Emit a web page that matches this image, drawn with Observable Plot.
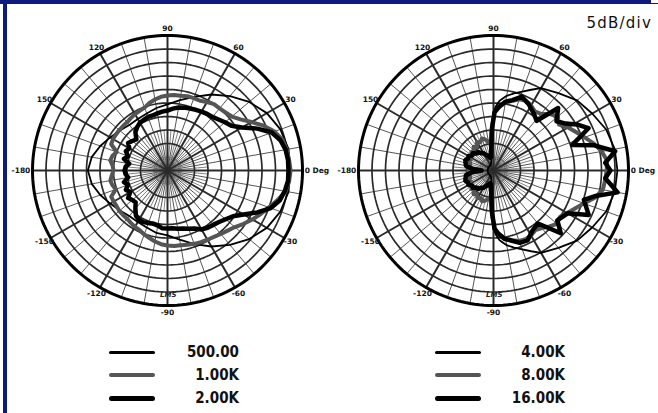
<!DOCTYPE html>
<html><head><meta charset="utf-8">
<script src="https://cdn.jsdelivr.net/npm/d3@7"></script>
<script src="https://cdn.jsdelivr.net/npm/@observablehq/plot@0.6"></script>
<style>
body{margin:0;background:#fff;}
#wrap{position:relative;width:658px;height:413px;overflow:hidden;background:#fff;font-family:"DejaVu Sans",sans-serif;}
#plot{position:absolute;left:0;top:0;}
.bar{position:absolute;background:#0e1a7c;}
.note{position:absolute;font-size:15px;letter-spacing:1.2px;color:#111;}
.logo{position:absolute;font-size:7px;font-style:italic;font-weight:bold;color:#222;}
.sw{position:absolute;border-radius:3px;}
.lab{position:absolute;font-family:"DejaVu Sans Condensed","DejaVu Sans",sans-serif;font-stretch:condensed;font-weight:bold;font-size:15px;color:#111;text-align:right;width:90px;}
</style></head><body><div id="wrap"><div id="plot"></div></div><script>
// ---------- data ----------
const ringLevels = [-45, -40, -35, -30, -25, -20, -15, -10, -5]; // dB, 5 dB/div
const outerLevel = 0;
const floorLevel = -50;
const tickAngles = [30, 60, 90, 120, 150, -150, -120, -90, -60, -30];
const tickLabels = ["30", "60", "90", "120", "150", "-150", "-120", "-90", "-60", "-30"];
const zeroLabel = "0 Deg";
const backLabel = "-180";
const leftNames = ["500.00", "1.00K", "2.00K"];
const rightNames = ["4.00K", "8.00K", "16.00K"];
const scaleNote = "5dB/div";

// [angle deg, level dB]
const f500 = [[-170,-21.5],[-160,-23.5],[-150,-25.5],[-140,-27],[-130,-28],[-120,-28],[-110,-27.5],[-100,-26.5],[-90,-26],[-80,-24],[-70,-21],[-60,-17.5],[-50,-14],[-40,-10.5],[-30,-7.5],[-20,-5.5],[-10,-4.5],[0,-4.4],[10,-4.5],[20,-5.5],[30,-7.5],[40,-10.5],[50,-14],[60,-17.5],[70,-21],[80,-23.5],[90,-25.5],[100,-26.5],[110,-27.5],[120,-28],[130,-28],[140,-27],[150,-25.5],[160,-23.5],[170,-21.5],[180,-20.5]];
const f1k = [[-175,-29.3],[-170,-28.5],[-165,-28.9],[-160,-29.6],[-155,-27],[-150,-27],[-145,-27],[-140,-26.7],[-135,-26.7],[-130,-26.7],[-125,-26.3],[-120,-25.9],[-115,-25.6],[-110,-24.8],[-105,-24.1],[-100,-23.3],[-95,-22.6],[-90,-22.2],[-85,-21.9],[-80,-21.9],[-75,-21.5],[-70,-21.1],[-65,-20.7],[-60,-20.4],[-55,-20],[-50,-19.3],[-45,-18.5],[-40,-17.4],[-35,-15.6],[-30,-13.7],[-25,-11.9],[-20,-10],[-15,-7.8],[-10,-5.6],[-5,-4.8],[0,-4.4],[5,-4.8],[10,-5.2],[15,-5.9],[20,-7.8],[25,-10.7],[30,-14.1],[35,-17],[40,-18.9],[45,-19.6],[50,-20],[55,-20],[60,-20.7],[65,-21.5],[70,-21.5],[75,-21.5],[80,-21.9],[85,-21.9],[90,-22.2],[95,-22.6],[100,-23.3],[105,-24.1],[110,-25.2],[115,-25.6],[120,-25.9],[125,-26.3],[130,-26.7],[135,-26.7],[140,-26.7],[145,-26.7],[150,-26.7],[155,-27],[160,-30],[165,-28.9],[170,-28.5],[175,-29.6],[180,-30]];
const f2k = [[-175,-34.4],[-170,-35.2],[-165,-33.3],[-160,-34.4],[-155,-33],[-150,-34.1],[-145,-32.2],[-140,-33],[-135,-33.3],[-130,-31.5],[-125,-29.6],[-120,-28.9],[-115,-28.9],[-110,-29.3],[-105,-29.6],[-100,-29.3],[-95,-28.5],[-90,-28.5],[-85,-28.5],[-80,-28.1],[-75,-27.8],[-70,-27],[-65,-26.3],[-60,-24.8],[-55,-24.1],[-50,-23.7],[-45,-23],[-40,-21.9],[-35,-20.4],[-30,-17.4],[-25,-13.3],[-20,-9.3],[-15,-7],[-10,-5.9],[-5,-5.2],[0,-5.2],[5,-5.2],[10,-5.6],[15,-6.7],[20,-8.9],[25,-13.3],[30,-18.1],[35,-21.1],[40,-22.2],[45,-23.3],[50,-24.1],[55,-24.4],[60,-24.8],[65,-25.2],[70,-25.6],[75,-25.9],[80,-26.3],[85,-27],[90,-27.8],[95,-28.1],[100,-28.5],[105,-28.9],[110,-28.9],[115,-29.3],[120,-29.6],[125,-30.4],[130,-31.5],[135,-33.7],[140,-33],[145,-32.2],[150,-33.7],[155,-33],[160,-34.4],[165,-33.3],[170,-35.6],[175,-34.4],[180,-34.1]];
const f4k = [[-150,-47.8],[-130,-47.8],[-110,-47.4],[-100,-45.6],[-96,-41.9],[-94,-37.8],[-92,-33.3],[-90,-28.5],[-88,-26.3],[-85,-24.1],[-80,-21.9],[-75,-20.4],[-70,-18.9],[-65,-17],[-60,-14.8],[-50,-12.6],[-40,-9.6],[-30,-7.8],[-20,-5.6],[-10,-4.4],[0,-4.1],[10,-4.4],[20,-5.6],[30,-7.8],[40,-9.6],[50,-12.6],[60,-14.8],[65,-17],[70,-18.9],[75,-20.4],[80,-21.9],[85,-24.1],[88,-26.3],[90,-28.5],[92,-33.3],[94,-37.8],[96,-41.9],[100,-45.6],[110,-47.4],[130,-47.8],[150,-47.8],[180,-47.8]];
const f8k = [[-175,-40.7],[-170,-40.4],[-165,-41.1],[-160,-40],[-155,-40.7],[-150,-39.6],[-145,-40.4],[-140,-39.3],[-135,-39.6],[-130,-38.5],[-125,-39.3],[-120,-38.1],[-115,-38.9],[-110,-37.8],[-105,-38.5],[-100,-39.3],[-95,-38.9],[-92,-33.7],[-89,-28.5],[-85,-26.3],[-80,-24.4],[-75,-23.3],[-70,-22.2],[-65,-21.9],[-60,-22.2],[-55,-23],[-50,-22.2],[-45,-20.7],[-40,-19.3],[-35,-20],[-30,-18.5],[-25,-16.7],[-20,-14.4],[-15,-11.1],[-10,-8.9],[-5,-8.5],[0,-8.1],[5,-7.8],[10,-9.3],[15,-11.5],[20,-14.1],[25,-16.3],[30,-18.1],[35,-20.4],[40,-18.9],[45,-20.4],[50,-22.6],[55,-23.3],[60,-22.2],[65,-21.5],[70,-21.9],[75,-23.3],[80,-24.4],[85,-26.3],[89,-28.5],[92,-33.7],[95,-38.9],[100,-39.3],[105,-38.1],[110,-37.4],[115,-38.5],[120,-37.8],[125,-39.3],[130,-38.5],[135,-39.6],[140,-39.3],[145,-40.4],[150,-39.6],[155,-40.7],[160,-40],[165,-41.1],[170,-40.4],[175,-40.7],[180,-40.7]];
const f16k = [[-175,-41.9],[-170,-39.6],[-165,-39.3],[-160,-38.9],[-155,-39.6],[-150,-39.3],[-145,-40.4],[-140,-40],[-135,-41.1],[-130,-41.1],[-125,-42.2],[-120,-42.6],[-115,-43.7],[-110,-44.1],[-105,-45.2],[-100,-44.8],[-95,-40.7],[-92,-34.4],[-89,-28.5],[-86,-26.7],[-81,-24.4],[-76,-23.3],[-70,-21.5],[-64,-21.2],[-57,-23.5],[-50,-24.4],[-43,-15.9],[-38,-20],[-30,-18.3],[-25,-11.1],[-18,-14.8],[-14,-11],[-10,-3.3],[-4,-8.5],[0,-6.7],[4,-8.5],[9,-4.4],[14,-11.5],[18,-19.3],[24,-11.5],[29,-14.8],[33,-18.1],[38,-20.4],[44,-16.7],[49,-25.6],[55,-24.1],[62,-22.2],[69,-20.7],[75,-23],[80,-24.1],[85,-26.3],[89,-28.5],[92,-34.4],[95,-40.7],[100,-44.8],[105,-45.2],[110,-44.1],[115,-43.7],[120,-42.6],[125,-42.2],[130,-41.1],[135,-41.1],[140,-40],[145,-40.4],[150,-39.3],[155,-39.6],[160,-38.9],[165,-39.3],[170,-39.6],[175,-41.9],[180,-45.6]];

// ---------- layout ----------
const W = 658, H = 335, CY = 170;
const CX = [167, 493];          // chart centres (px)
const R_PX = 135;               // outer ring radius (px)
const k = R_PX / (outerLevel - floorLevel);
const off = CX.map(c => (c - CX[0]) / k);
const rad = d => d * Math.PI / 180;
const pt = (o, deg, r) => ({x: o + r * Math.cos(rad(deg)), y: r * Math.sin(rad(deg))});
const toXY = (o, arr) => arr.map(([a, db]) => pt(o, a, Math.max(0, db - floorLevel)));

const marks = [];
const circ = (o, r) => d3.range(0, 361, 2).map(a => pt(o, a, r));
for (const o of off) {
  const fine = d3.range(0, 360, 5).filter(a => a % 10 !== 0).map(a => ({a1: pt(o, a, 0), a2: pt(o, a, 15)}));
  const tens = d3.range(0, 360, 10).filter(a => a % 30 !== 0).map(a => ({a1: pt(o, a, 0), a2: pt(o, a, 50)}));
  const thirty = d3.range(0, 360, 30).map(a => ({a1: pt(o, a, 0), a2: pt(o, a, 50)}));
  const L = (data, stroke, sw) => Plot.link(data, {x1: d => d.a1.x, y1: d => d.a1.y, x2: d => d.a2.x, y2: d => d.a2.y, stroke, strokeWidth: sw});
  marks.push(L(fine, "#666", 0.8), L(tens, "#555", 1));
  for (const lv of ringLevels) {
    const r = lv - floorLevel;
    marks.push(Plot.line(circ(o, r), {x: "x", y: "y", stroke: lv === ringLevels[0] ? "#777" : "#2a2a2a", strokeWidth: lv === ringLevels[0] ? 1.2 : 1.7}));
  }
  marks.push(L(thirty, "#2a2a2a", 2));
  marks.push(Plot.line(circ(o, outerLevel - floorLevel), {x: "x", y: "y", stroke: "#000", strokeWidth: 3}));
  const lr = 52.6;
  marks.push(Plot.text(tickAngles.map((a, i) => ({...pt(o, a, lr), t: tickLabels[i]})), {x: "x", y: "y", text: "t", fontSize: 7.5, fontWeight: "bold", fill: "#111"}));
  marks.push(Plot.text([{...pt(o, 0, 50.8), t: zeroLabel}], {x: "x", y: "y", text: "t", textAnchor: "start", fontSize: 7.5, fontWeight: "bold", fill: "#111"}));
  marks.push(Plot.text([{...pt(o, 180, 50.8), t: backLabel}], {x: "x", y: "y", text: "t", textAnchor: "end", fontSize: 7.5, fontWeight: "bold", fill: "#111"}));
}
const styles = [{stroke: "#000", w: 1.8, lw: 3}, {stroke: "#555", w: 4, lw: 4.5}, {stroke: "#000", w: 4.5, lw: 5}];
[f500, f1k, f2k].forEach((s, i) => marks.push(Plot.line(toXY(off[0], s), {x: "x", y: "y", stroke: styles[i].stroke, strokeWidth: styles[i].w, curve: "linear-closed", strokeLinejoin: "round"})));
[f4k, f8k, f16k].forEach((s, i) => marks.push(Plot.line(toXY(off[1], s), {x: "x", y: "y", stroke: styles[i].stroke, strokeWidth: styles[i].w, curve: "linear-closed", strokeLinejoin: "round"})));

const chart = Plot.plot({
  width: W, height: H, margin: 0,
  x: {domain: [-CX[0] / k, (W - CX[0]) / k], axis: null},
  y: {domain: [-(H - CY) / k, CY / k], axis: null},
  style: {fontFamily: "DejaVu Sans, sans-serif", background: "transparent", overflow: "visible"},
  marks
});
document.getElementById("plot").appendChild(chart);

// ---------- frame, note, legend ----------
const wrap = document.getElementById("wrap");
const add = (cls, css, txt) => { const d = document.createElement("div"); d.className = cls; d.style.cssText = css; if (txt) d.textContent = txt; wrap.appendChild(d); return d; };
add("bar", "left:0;top:0;width:650px;height:4px;");
add("bar", "left:3px;top:0;width:4px;height:413px;");
add("", "position:absolute;left:650px;top:0;width:7px;height:3px;border:1px solid #0e1a7c;border-top:none;background:#fff;");
add("note", "right:6px;top:14px;", scaleNote);
CX.forEach(c => add("logo", `left:${c - 7}px;top:291px;`, "LMS"));
const rowsY = [352, 375, 398];
// legend columns placed relative to each chart centre
const swFrom = -58, swLen = 46, labEnd = 72;
[leftNames, rightNames].forEach((names, col) => {
  names.forEach((n, i) => {
    const st = styles[i];
    add("sw", `left:${CX[col] + swFrom}px;top:${rowsY[i] - st.lw / 2}px;width:${swLen}px;height:${st.lw}px;background:${st.stroke};`);
    add("lab", `left:${CX[col] + labEnd - 90}px;top:${rowsY[i] - 10}px;line-height:20px;`, n);
  });
});
</script></body></html>
